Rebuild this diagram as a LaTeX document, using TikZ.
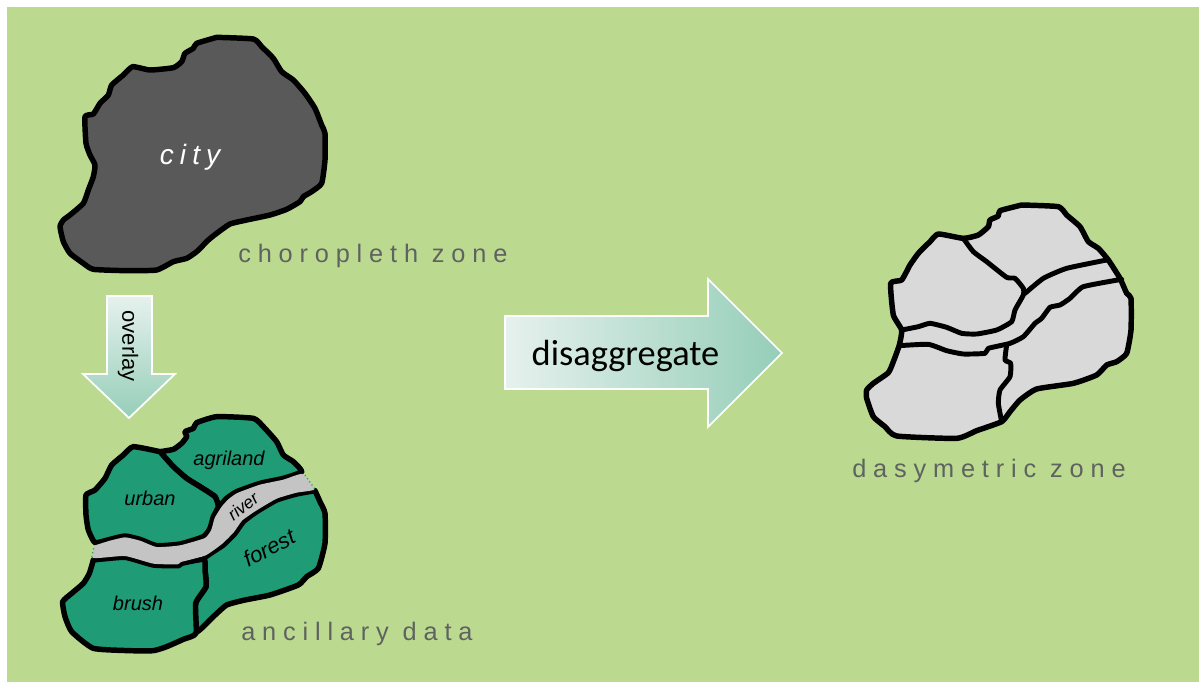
\documentclass[tikz,border=0pt]{standalone}
\usepackage{fontspec}
\setmainfont{Liberation Sans}
\newfontfamily\labfont[LetterSpace=27]{Liberation Sans}
\newfontfamily\cityfont[LetterSpace=22]{Liberation Sans}
\newfontfamily\calfont{Carlito}
\definecolor{bggreen}{HTML}{BBDA90}
\definecolor{inkgray}{HTML}{5F6360}
\definecolor{citygray}{HTML}{595959}
\definecolor{landgreen}{HTML}{1F9B76}
\definecolor{rivergray}{HTML}{C4C4C4}
\definecolor{zonegray}{HTML}{D9D9D9}
\definecolor{arrowlight}{HTML}{E6F1EE}
\definecolor{arrowdark}{HTML}{95CEB8}
\tikzset{
  zoneline/.style={draw=black,line width=4.1pt,line join=round,line cap=round},
  innerline/.style={draw=black,line width=3.7pt,line join=round,line cap=round},
  zonelabel/.style={inkgray,font=\labfont\fontsize{19}{23}\selectfont,inner sep=0pt,anchor=west},
  landlabel/.style={font=\itshape\fontsize{15}{18}\selectfont,inner sep=0pt,text=black},
  sm/.style={smooth,tension=0.3},
}
\begin{document}
\begin{tikzpicture}[x=0.75pt,y=-0.75pt]
\useasboundingbox (0,0) rectangle (1199,682);
\fill[white] (0,0) rectangle (1199,682);
\fill[bggreen] (7,7) rectangle (1199,682);

% choropleth zone
\begin{scope}[shift={(40,20)},x=0.25pt,y=-0.25pt]
\draw[zoneline,fill=citygray] plot[sm] coordinates {(530,52)(640,57)(665,80)(700,115)(725,155)(760,180)(795,220)(825,265)(845,315)(855,340)(855,420)(845,490)(815,515)(790,530)(780,545)(740,568)(690,585)(620,600)(570,612)(530,640)(505,660)(470,695)(440,715)(400,725)(350,750)(260,752)(160,748)(130,730)(90,700)(70,665)(60,620)(70,600)(90,585)(130,550)(145,510)(160,470)(165,435)(150,405)(138,370)(135,290)(160,282)(180,250)(205,225)(215,195)(250,165)(278,140)(330,150)(400,143)(425,125)(435,100)(460,85)(470,70)(530,52)};
\end{scope}
\node[inner sep=0pt,text=white,font=\cityfont\itshape\fontsize{21}{25}\selectfont] (city) at (190,157) {city};
\node[zonelabel] (choro) at (238,256) {choropleth zone};

% overlay arrow
\path[draw=white,line width=1.3pt,top color=arrowlight,bottom color=arrowdark,miter limit=10]
  (107,296) -- (152,296) -- (152,374) -- (175,374) -- (129,418) -- (83,374) -- (107,374) -- cycle;
\node[rotate=-90,inner sep=0pt,font=\fontsize{16.5}{20}\selectfont] (overlay) at (128,346) {overlay};

% ancillary data
\begin{scope}[shift={(50,400)},x=0.25pt,y=-0.25pt]
\draw[zoneline,fill=landgreen] plot[sm] coordinates {(330,155)(370,148)(395,130)(410,110)(405,95)(430,85)(440,68)(500,50)(610,55)(640,80)(680,125)(700,165)(730,185)(755,215)(700,235)(630,250)(560,275)(530,295)(505,320)(495,290)(450,260)(410,235)(370,200)(330,155)};
\draw[zoneline,fill=landgreen] plot[sm] coordinates {(330,155)(250,140)(220,165)(185,195)(165,235)(135,270)(108,285)(108,345)(115,390)(135,428)(180,418)(225,408)(270,418)(320,437)(390,432)(460,410)(480,385)(490,350)(505,320)(495,290)(450,260)(410,235)(370,200)(330,155)};
\draw[zoneline,fill=landgreen] plot[sm] coordinates {(795,272)(810,305)(825,340)(825,430)(805,505)(770,530)(745,555)(660,585)(585,600)(530,615)(490,650)(440,695)(437,610)(468,560)(465,510)(462,475)(520,435)(555,400)(580,365)(620,335)(680,300)(740,282)(795,272)};
\draw[zoneline,fill=landgreen] plot[sm] coordinates {(130,480)(118,520)(100,550)(65,580)(38,605)(45,650)(65,695)(130,745)(240,752)(310,752)(350,740)(400,718)(438,700)(437,610)(468,560)(465,510)(462,478)(395,490)(385,497)(310,495)(225,472)(130,480)};
\fill[rivergray] plot[sm] coordinates {(135,436)(180,422)(225,412)(270,422)(320,441)(390,436)(465,414)(484,389)(494,354)(515,320)(535,298)(562,279)(630,254)(700,239)(757,222)(793,268)(740,278)(680,296)(620,331)(577,361)(552,396)(517,431)(467,466)(393,486)(383,493)(310,491)(225,468)(130,474)(135,436)};
\draw[dotted,landgreen,line width=0.9pt] (131,445) -- (125,470);
\draw[dotted,landgreen,line width=0.9pt] (765,225) -- (795,268);
\end{scope}
\node[landlabel] (agri) at (229,460) {agriland};
\node[landlabel] (urban) at (150,498) {urban};
\node[landlabel] (brush) at (138,603) {brush};
\node[landlabel,rotate=38,font=\itshape\fontsize{13}{15}\selectfont] (river) at (243,506) {river};
\node[landlabel,rotate=28,font=\itshape\fontsize{16.5}{20}\selectfont] (forest) at (269,548) {forest};
\node[zonelabel] (anc) at (241,634) {ancillary data};

% disaggregate arrow
\path[draw=white,line width=1.3pt,left color=arrowlight,right color=arrowdark,miter limit=10]
  (505,316) -- (708,316) -- (708,279) -- (782,353) -- (708,427) -- (708,389) -- (505,389) -- cycle;
\node[inner sep=0pt,font=\calfont\fontsize{27.3}{32}\selectfont] (dis) at (625.5,355.5) {disaggregate};

% dasymetric zone
\begin{scope}[shift={(850,190)},x=0.25pt,y=-0.25pt]
\draw[zoneline,fill=zonegray] plot[sm] coordinates {(515,45)(625,50)(650,75)(690,110)(715,155)(745,175)(775,210)(810,265)(830,310)(843,325)(843,420)(830,490)(800,515)(770,525)(740,555)(670,580)(560,597)(510,630)(480,665)(455,695)(380,722)(320,745)(140,738)(105,710)(70,680)(50,625)(50,600)(70,580)(115,548)(130,515)(148,465)(155,420)(130,375)(122,280)(155,270)(180,225)(205,190)(240,155)(265,132)(340,145)(385,135)(415,110)(420,90)(445,78)(450,62)(515,45)};
\draw[innerline] plot[sm] coordinates {(340,145)(370,185)(410,215)(470,262)(495,265)(520,295)(520,315)(495,360)(485,395)(440,420)(380,432)(335,430)(290,412)(240,400)(205,410)(155,420)};
\draw[innerline] plot[sm] coordinates {(525,310)(580,265)(650,235)(770,210)};
\draw[innerline] plot[sm] coordinates {(148,467)(235,463)(290,482)(340,492)(405,490)(415,475)(480,460)(520,440)(555,400)(575,385)(600,352)(630,345)(660,325)(700,290)(815,268)};
\draw[innerline] plot[sm] coordinates {(470,465)(465,510)(482,520)(480,560)(450,600)(445,640)(455,695)};
\end{scope}
\node[zonelabel] (dasy) at (852,471) {dasymetric zone};
\end{tikzpicture}
\end{document}
